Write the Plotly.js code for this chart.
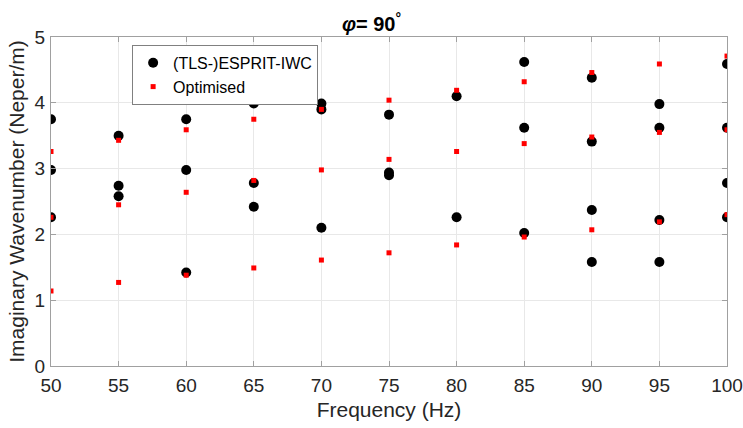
<!DOCTYPE html>
<html>
<head>
<meta charset="utf-8">
<script src="https://cdn.plot.ly/plotly-3.0.1.min.js"></script>
<style>html,body{margin:0;padding:0;background:#fff;}#chart{width:743px;height:428px;}</style>
</head>
<body>
<div id="chart"></div>
<script>
// Frequencies for each estimate
var esprit_freq = [50,50,50, 55,55,55, 60,60,60, 65,65,65, 70,70,70, 75,75,75, 80,80, 85,85,85, 90,90,90,90, 95,95,95,95, 100,100,100,100];
var esprit_val  = [3.75,2.98,2.26, 3.50,2.74,2.58, 3.75,2.98,1.42, 3.99,2.78,2.42, 3.99,3.90,2.10, 3.82,2.94,2.90, 4.10,2.26, 4.62,3.62,2.02, 4.38,3.41,2.37,1.58, 3.98,3.62,2.22,1.58, 4.59,3.62,2.78,2.26];
var opt_freq = [50,50,50, 55,55,55, 60,60,60, 65,65,65, 70,70,70, 75,75,75, 80,80,80, 85,85,85, 90,90,90, 95,95,95, 100,100,100];
var opt_val  = [3.26,2.26,1.14, 3.43,2.45,1.27, 3.59,2.64,1.38, 3.75,2.82,1.49, 3.90,2.98,1.61, 4.04,3.14,1.72, 4.19,3.26,1.84, 4.32,3.38,1.96, 4.46,3.48,2.07, 4.59,3.55,2.19, 4.71,3.59,2.30];
var xTicks = [50,55,60,65,70,75,80,85,90,95,100];
var yTicks = [0,1,2,3,4,5];

var font = 'Liberation Sans, Arial, sans-serif';
var traces = [
  {x: esprit_freq, y: esprit_val, mode: 'markers', type: 'scatter', name: '(TLS-)ESPRIT-IWC',
   marker: {color: '#000000', size: 10, symbol: 'circle'}},
  {x: opt_freq, y: opt_val, mode: 'markers', type: 'scatter', name: 'Optimised',
   marker: {color: '#ff0000', size: 5, symbol: 'square'}}
];
var axisCommon = {
  showline: true, mirror: 'ticks', linecolor: '#a0a0a0', linewidth: 1,
  ticks: 'inside', ticklen: 5, tickcolor: '#a0a0a0',
  showgrid: true, gridcolor: '#e8e8e8', zeroline: false,
  tickfont: {family: font, size: 19, color: '#262626'}
};
var layout = {
  width: 743, height: 428,
  margin: {l: 51, r: 16, t: 37, b: 62},
  paper_bgcolor: '#ffffff', plot_bgcolor: '#ffffff',
  font: {family: font, color: '#262626'},
  title: {text: '<b><i>φ</i>= 90<sup>°</sup></b>', font: {family: font, size: 20, color: '#000'},
          x: 0.5, xanchor: 'center', y: 0.943, yanchor: 'middle'},
  xaxis: Object.assign({}, axisCommon, {range: [50, 100], tickvals: xTicks, ticktext: xTicks.map(String),
          ticklabelstandoff: 2,
          title: {text: 'Frequency (Hz)', font: {family: font, size: 21, color: '#262626'}, standoff: 7}}),
  yaxis: Object.assign({}, axisCommon, {range: [0, 5], tickvals: yTicks, ticktext: yTicks.map(String),
          ticklabelstandoff: 1,
          title: {text: 'Imaginary Wavenumber (Neper/m)', font: {family: font, size: 21, color: '#262626'}, standoff: 4}}),
  showlegend: true,
  legend: {x: 0.12, y: 0.976, xanchor: 'left', yanchor: 'top', bgcolor: '#ffffff',
           bordercolor: '#808080', borderwidth: 1, font: {family: font, size: 16, color: '#000'},
           tracegroupgap: 0, itemwidth: 30}
};
Plotly.newPlot('chart', traces, layout, {displayModeBar: false, staticPlot: true});
</script>
</body>
</html>
